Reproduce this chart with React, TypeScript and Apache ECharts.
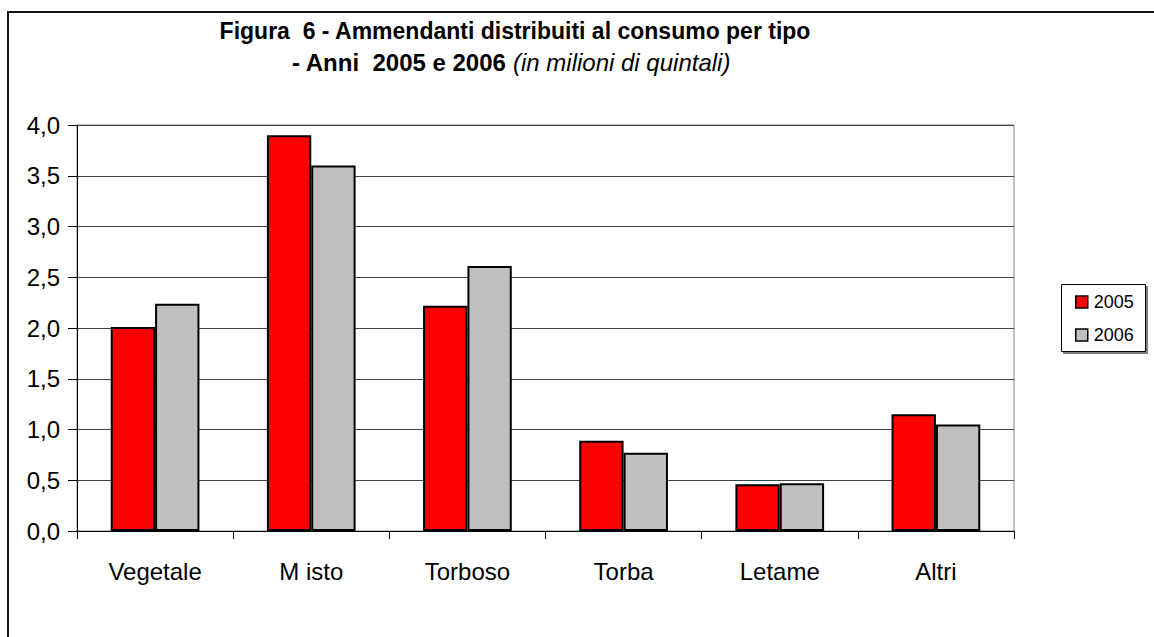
import React, { useEffect, useRef } from "react";
import * as echarts from "echarts";

const categories = ["Vegetale", "M isto", "Torboso", "Torba", "Letame", "Altri"];
const values2005 = [2.01, 3.9, 2.22, 0.89, 0.46, 1.15];
const values2006 = [2.24, 3.6, 2.61, 0.77, 0.47, 1.05];
const seriesNames = ["2005", "2006"];
const titleLine1 = "Figura  6 - Ammendanti distribuiti al consumo per tipo";
const titleLine2Bold = "- Anni  2005 e 2006 ";
const titleLine2Italic = "(in milioni di quintali)";

const FONT = "'Liberation Sans', Arial, sans-serif";

export default function App() {
  const ref = useRef<HTMLDivElement>(null);
  useEffect(() => {
    if (!ref.current) return;
    const chart = echarts.init(ref.current, null, { renderer: "svg" });
    const barStyle = (color: string) => ({
      color,
      borderColor: "#000",
      borderWidth: 2,
    });
    chart.setOption({
      animation: false,
      backgroundColor: "#fff",
      textStyle: { fontFamily: FONT, color: "#000" },
      title: [
        {
          text: titleLine1,
          left: 510,
          top: 14,
          textAlign: "center",
          textStyle: { fontFamily: FONT, fontSize: 23, fontWeight: "bold", color: "#000" },
        },
        {
          text: `{b|${titleLine2Bold}}{i|${titleLine2Italic}}`,
          left: 506,
          top: 45,
          textAlign: "center",
          textStyle: {
            fontFamily: FONT,
            fontSize: 24,
            fontWeight: "normal",
            color: "#000",
            rich: {
              b: { fontFamily: FONT, fontSize: 24, fontWeight: "bold", color: "#000" },
              i: { fontFamily: FONT, fontSize: 24, fontStyle: "italic", fontWeight: "normal", color: "#000" },
            },
          },
        },
      ],
      graphic: [
        {
          type: "rect",
          z: 0,
          shape: { x: 8, y: 12, width: 1300, height: 800 },
          style: { fill: "none", stroke: "#111", lineWidth: 2 },
        },
        {
          type: "rect",
          z: 0,
          shape: { x: 1063, y: 286, width: 85, height: 68 },
          style: { fill: "#808080" },
        },
        {
          type: "rect",
          z: 1,
          shape: { x: 1061.5, y: 284.5, width: 84, height: 67 },
          style: { fill: "#fff", stroke: "#000", lineWidth: 1 },
        },
      ],
      legend: {
        z: 10,
        orient: "vertical",
        left: 1075,
        top: 293,
        itemWidth: 12,
        itemHeight: 12,
        itemGap: 15,
        icon: "rect",
        padding: 0,
        data: seriesNames,
        itemStyle: { borderColor: "#000", borderWidth: 1.5 },
        textStyle: { fontFamily: FONT, fontSize: 18, color: "#000", padding: [0, 0, 0, 1] },
      },
      grid: {
        left: 77,
        top: 125,
        width: 937,
        height: 406,
        show: true,
        borderColor: "#808080",
        borderWidth: 1,
        containLabel: false,
      },
      xAxis: {
        type: "category",
        data: categories,
        axisLine: { lineStyle: { color: "#000", width: 1 } },
        axisTick: { show: true, length: 8, lineStyle: { color: "#000" } },
        axisLabel: { fontFamily: FONT, fontSize: 24, color: "#000", margin: 28 },
        splitLine: { show: false },
      },
      yAxis: {
        type: "value",
        min: 0,
        max: 4,
        interval: 0.5,
        axisLine: { show: true, lineStyle: { color: "#000", width: 1 } },
        axisTick: { show: true, length: 9, lineStyle: { color: "#000" } },
        axisLabel: {
          fontFamily: FONT,
          fontSize: 24,
          color: "#000",
          margin: 17,
          formatter: (v: number) => v.toFixed(1).replace(".", ","),
        },
        splitLine: { show: true, lineStyle: { color: "#444", width: 1 } },
      },
      series: [
        {
          name: seriesNames[0],
          type: "bar",
          data: values2005,
          barWidth: "28.4%",
          barGap: "0%",
          itemStyle: barStyle("#FF0000"),
        },
        {
          name: seriesNames[1],
          type: "bar",
          data: values2006,
          barWidth: "28.4%",
          barGap: "0%",
          itemStyle: barStyle("#C0C0C0"),
        },
      ],
    });
    return () => chart.dispose();
  }, []);
  return (
    <div
      ref={ref}
      style={{ position: "fixed", left: 0, top: 0, width: 1154, height: 637 }}
    />
  );
}
